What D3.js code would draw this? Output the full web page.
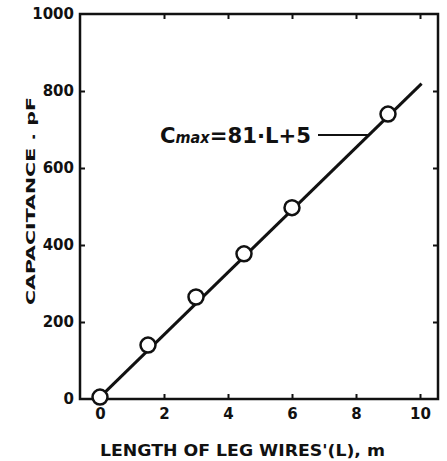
<!DOCTYPE html>
<html>
<head>
<meta charset="utf-8">
<script src="https://cdn.jsdelivr.net/npm/d3@7"></script>
<style>
  body { margin: 0; background: #fff; }
  text { font-family: "DejaVu Sans", sans-serif; font-weight: bold; fill: #111; }
</style>
</head>
<body>
<div id="chart"></div>
<script>
const lengths = [0, 1.5, 3, 4.5, 6, 9];
const capacitance = [5, 140, 265, 377, 497, 740];
const xTicks = [0, 2, 4, 6, 8, 10];
const yTicks = [0, 200, 400, 600, 800, 1000];
const fitSlope = 81, fitIntercept = 5;
const fitRange = [0, 10.05];

const width = 447, height = 461;
const frame = { left: 80, right: 438, top: 14, bottom: 399 };

const x = d3.scaleLinear().domain([0, 10]).range([100, 420]);
const y = d3.scaleLinear().domain([0, 1000]).range([frame.bottom, frame.top]);

const svg = d3.select("#chart").append("svg")
    .attr("width", width).attr("height", height);

// frame
svg.append("rect")
    .attr("x", frame.left).attr("y", frame.top)
    .attr("width", frame.right - frame.left)
    .attr("height", frame.bottom - frame.top)
    .attr("fill", "none").attr("stroke", "#111").attr("stroke-width", 2.5);

// axes with inward ticks
const tickLen = 5;
const fmt = d3.format("d");
const bottomAxis = svg.append("g").attr("transform", `translate(0,${frame.bottom})`)
    .call(d3.axisBottom(x).tickValues(xTicks).tickFormat(fmt).tickSizeInner(-tickLen).tickSizeOuter(0).tickPadding(9))
    .call(g => g.select(".domain").remove())
    .call(g => g.selectAll("text").style("font-size", "15px").attr("fill", "#111"));
svg.append("g").attr("transform", `translate(0,${frame.top})`)
    .call(d3.axisTop(x).tickValues(xTicks).tickSizeInner(-tickLen).tickSizeOuter(0).tickFormat(""))
    .call(g => g.select(".domain").remove());
svg.append("g").attr("transform", `translate(${frame.left},0)`)
    .call(d3.axisLeft(y).tickValues(yTicks).tickFormat(fmt).tickSizeInner(-tickLen).tickSizeOuter(0).tickPadding(6))
    .call(g => g.select(".domain").remove())
    .call(g => g.selectAll("text").style("font-size", "15px").attr("fill", "#111"));
svg.append("g").attr("transform", `translate(${frame.right},0)`)
    .call(d3.axisRight(y).tickValues(yTicks).tickSizeInner(-tickLen).tickSizeOuter(0).tickFormat(""))
    .call(g => g.select(".domain").remove());
svg.selectAll(".tick line").attr("stroke", "#111").attr("stroke-width", 2);
svg.selectAll(".tick").filter(d => d === 0 || d === 1000).select("line").remove();
bottomAxis.selectAll(".tick").filter(d => d === 0)
    .append("line").attr("y2", -tickLen).attr("stroke", "#111").attr("stroke-width", 2);

// fit line
const fit = fitRange.map(L => [L, fitSlope * L + fitIntercept]);
svg.append("path")
    .attr("d", d3.line().x(d => x(d[0])).y(d => y(d[1]))(fit))
    .attr("stroke", "#111").attr("stroke-width", 3).attr("fill", "none");

// points
svg.selectAll(".pt").data(lengths.map((L, i) => [L, capacitance[i]]))
    .join("circle").attr("class", "pt")
    .attr("cx", d => x(d[0])).attr("cy", d => y(d[1]))
    .attr("r", 7.5).attr("fill", "#fff").attr("stroke", "#111").attr("stroke-width", 2.5);

// annotation
const annY = 135;
const ann = svg.append("text").attr("x", 160).attr("y", annY + 8).style("font-size", "22px")
    .attr("textLength", 151).attr("lengthAdjust", "spacingAndGlyphs");
ann.append("tspan").text("C");
ann.append("tspan").style("font-size", "15px").style("font-style", "italic").text("max");
ann.append("tspan").text("=81·L+5");
const annLc = (y.invert(annY) - fitIntercept) / fitSlope;
svg.append("line")
    .attr("x1", 318).attr("x2", x(annLc)).attr("y1", annY).attr("y2", annY)
    .attr("stroke", "#111").attr("stroke-width", 2);

// axis titles
svg.append("text")
    .attr("x", 100).attr("y", 456)
    .attr("textLength", 285).attr("lengthAdjust", "spacingAndGlyphs")
    .style("font-size", "15px")
    .text("LENGTH OF LEG WIRES'(L), m");
svg.append("text")
    .attr("transform", "translate(35,305) rotate(-90)")
    .attr("textLength", 208).attr("lengthAdjust", "spacingAndGlyphs")
    .style("font-size", "13px")
    .text("CAPACITANCE . pF");
</script>
</body>
</html>
